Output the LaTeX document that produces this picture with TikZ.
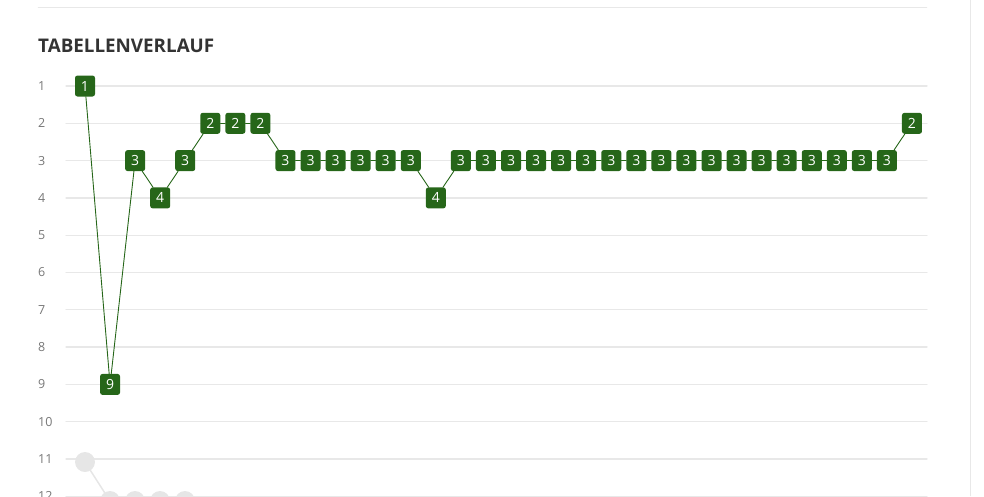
\documentclass[tikz,border=0pt]{standalone}
\usepackage{fontspec}
\setmainfont{Open Sans}
\definecolor{tgreen}{HTML}{266619}
\definecolor{gridgray}{HTML}{E8E8E8}
\definecolor{labgray}{HTML}{777777}
\definecolor{titlegray}{HTML}{333333}
\definecolor{ghost}{HTML}{E6E6E6}
\begin{document}
\begin{tikzpicture}[x=1pt, y=-1pt, line join=round, line cap=round,
    rank/.style={fill=tgreen, text=white, rounded corners=2.5pt, minimum width=20pt,
      minimum height=21pt, inner sep=0pt, font=\fontsize{14}{14}\selectfont},
    ghostdot/.style={circle, fill=ghost, minimum size=20pt, inner sep=0pt},
    ranklabel/.style={anchor=west, inner sep=0pt, text=labgray, font=\fontsize{12.5}{12.5}\selectfont}]
    \useasboundingbox (0,0) rectangle (984,496);
    \draw[gridgray] (38,7) -- (927,7);
    \draw[gridgray] (970,0) -- (970,496);
    \node[anchor=base west, inner sep=0pt, text=titlegray, font=\bfseries\fontsize{18.8}{18.8}\selectfont]
        (title) at (38,52) {TABELLENVERLAUF};
    % grid and rank labels
    \foreach \r in {1,...,12}{
        \draw[gridgray, line width=1.3pt] (66,{86+(\r-1)*37.3}) -- (927,{86+(\r-1)*37.3});
        \node[ranklabel] (l\r) at (38,{86+(\r-1)*37.3}) {\r};
    }
    % faded points
    \node[ghostdot] (g1) at (85,462) {};
    \foreach \i/\x in {2/110,3/135,4/160,5/185}
        \node[ghostdot] (g\i) at (\x,501) {};
    \draw[ghost, line width=1.5pt] (g1) -- (g2);
    % ranks
    \foreach \v [count=\i] in {1,9,3,4,3,2,2,2,3,3,3,3,3,3,4,3,3,3,3,3,3,3,3,3,3,3,3,3,3,3,3,3,3,2}
        \node[rank] (p\i) at ({85+(\i-1)*25.06},{86+(\v-1)*37.3}) {\v};
    \foreach \i in {1,...,33}{
        \pgfmathtruncatemacro\j{\i+1}
        \draw[tgreen, line width=.9pt] (p\i) -- (p\j);
    }
\end{tikzpicture}
\end{document}
